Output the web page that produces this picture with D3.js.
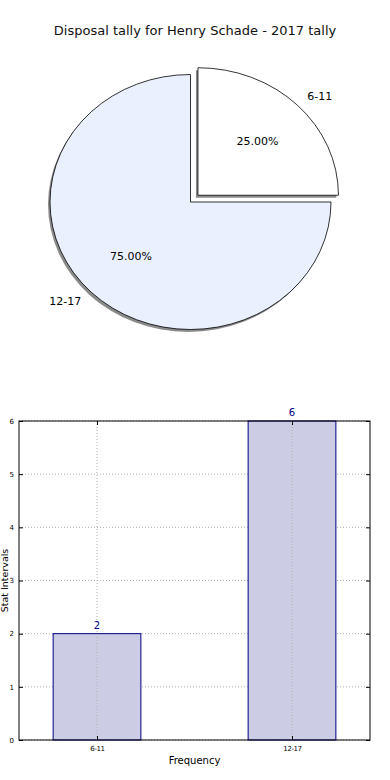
<!DOCTYPE html>
<html>
<head>
<meta charset="utf-8">
<script src="https://cdn.jsdelivr.net/npm/d3@7"></script>
<style>
  body { margin: 0; background: #fff; }
  svg { display: block; font-family: "DejaVu Sans", sans-serif; }
</style>
</head>
<body>
<div id="viz"></div>
<script>
// data
let title = "Disposal tally for Henry Schade - 2017 tally";
let ageGroups = ["6-11", "12-17"];
let tally = [2, 6];
let sliceColors = ["#ffffff", "#eaf0fe"];
let explode = [0.075, 0];
let yTicks = [0, 1, 2, 3, 4, 5, 6];

let w = 390;
let h = 780;

let svg = d3.select("#viz").append("svg")
    .attr("width", w)
    .attr("height", h);

svg.append("rect").attr("width", w).attr("height", h).attr("fill", "#fff");

// title
svg.append("text")
    .attr("x", 195).attr("y", 35)
    .attr("text-anchor", "middle")
    .attr("font-size", "13px")
    .attr("fill", "#111")
    .text(title);

// ---- pie (elliptical, like matplotlib without equal aspect) ----
let cx = 190.5, cy = 202;
let rx = 140.5, ry = 127.5;
let total = d3.sum(tally);

let pie = d3.pie().sort(null).startAngle(0).endAngle(2 * Math.PI);
let arcs = pie(tally);
let arc = d3.arc().innerRadius(0).outerRadius(1);

// point on ellipse for a d3 angle (0 = up, clockwise)
function pt(a, k) {
  return [Math.sin(a) * rx * k, -Math.cos(a) * ry * k];
}

let pieG = svg.append("g").attr("transform", "translate(" + cx + "," + cy + ")");

arcs.forEach((d, i) => {
  let mid = (d.startAngle + d.endAngle) / 2;
  let off = pt(mid, explode[i]);
  d.ox = off[0];
  d.oy = off[1];
  d.mid = mid;
});

// shadows
pieG.selectAll(".shadow").data(arcs).enter().append("path")
    .attr("class", "shadow")
    .attr("d", arc)
    .attr("transform", d => "translate(" + (d.ox - 2) + "," + (d.oy + 2.5) + ") scale(" + rx + "," + ry + ")")
    .attr("fill", "#777")
    .attr("opacity", 0.85);

// slices
pieG.selectAll(".slice").data(arcs).enter().append("path")
    .attr("class", "slice")
    .attr("d", arc)
    .attr("transform", d => "translate(" + d.ox + "," + d.oy + ") scale(" + rx + "," + ry + ")")
    .attr("fill", (d, i) => sliceColors[i])
    .attr("stroke", "#000")
    .attr("stroke-width", 0.8)
    .attr("vector-effect", "non-scaling-stroke");

// labels
pieG.selectAll(".lbl").data(arcs).enter().append("text")
    .attr("class", "lbl")
    .attr("x", d => d.ox + pt(d.mid, 1.1)[0])
    .attr("y", d => d.oy + pt(d.mid, 1.1)[1])
    .attr("dy", "0.35em")
    .attr("text-anchor", d => Math.sin(d.mid) > 0 ? "start" : "end")
    .attr("font-size", "11px")
    .text((d, i) => ageGroups[i]);

pieG.selectAll(".pct").data(arcs).enter().append("text")
    .attr("class", "pct")
    .attr("x", d => d.ox + pt(d.mid, 0.6)[0])
    .attr("y", d => d.oy + pt(d.mid, 0.6)[1])
    .attr("dy", "0.35em")
    .attr("text-anchor", "middle")
    .attr("font-size", "11px")
    .text(d => (d.value / total * 100).toFixed(2) + "%");

// ---- bar chart ----
let plotL = 19, plotR = 370, plotT = 421, plotB = 740;

let x = d3.scalePoint().domain(ageGroups).range([plotL, plotR]).padding(0.4);
let barW = x.step() * 0.45;
let y = d3.scaleLinear().domain([0, 6]).range([plotB, plotT]);

let chart = svg.append("g");

// grid
chart.selectAll(".hgrid").data(yTicks).enter().append("line")
    .attr("x1", plotL).attr("x2", plotR)
    .attr("y1", d => y(d)).attr("y2", d => y(d))
    .attr("stroke", "#b0b0b0").attr("stroke-width", 1)
    .attr("stroke-dasharray", "1,2");

// bars
chart.selectAll(".bar").data(tally).enter().append("rect")
    .attr("x", (d, i) => x(ageGroups[i]) - barW / 2)
    .attr("y", d => y(d))
    .attr("width", barW)
    .attr("height", d => plotB - y(d))
    .attr("fill", "#cccce4")
    .attr("stroke", "#000080")
    .attr("stroke-width", 1);

chart.selectAll(".vgrid").data(ageGroups).enter().append("line")
    .attr("x1", d => x(d)).attr("x2", d => x(d))
    .attr("y1", plotT).attr("y2", plotB)
    .attr("stroke", "#b0b0b0").attr("stroke-width", 1)
    .attr("stroke-dasharray", "1,2");

// value labels
chart.selectAll(".val").data(tally).enter().append("text")
    .attr("x", (d, i) => x(ageGroups[i]))
    .attr("y", d => y(d) - 5)
    .attr("text-anchor", "middle")
    .attr("font-size", "10px")
    .attr("fill", "#000080")
    .text(d => d);

// frame
chart.append("rect")
    .attr("x", plotL).attr("y", plotT)
    .attr("width", plotR - plotL).attr("height", plotB - plotT)
    .attr("fill", "none").attr("stroke", "#000").attr("stroke-width", 1);

// axes
let yAxis = d3.axisLeft(y).tickValues(yTicks).tickSize(-4).tickPadding(5).tickFormat(d3.format("d"));
let yg = chart.append("g").attr("transform", "translate(" + plotL + ",0)").call(yAxis);
yg.select(".domain").remove();
yg.selectAll("text").attr("font-size", "7px").attr("font-family", "DejaVu Sans");
yg.selectAll("line").attr("stroke", "#000");

let yAxisR = d3.axisRight(y).tickValues(yTicks).tickSize(-4).tickFormat("");
let ygr = chart.append("g").attr("transform", "translate(" + plotR + ",0)").call(yAxisR);
ygr.select(".domain").remove();

let xAxis = d3.axisBottom(x).tickSize(-4).tickPadding(6);
let xg = chart.append("g").attr("transform", "translate(0," + plotB + ")").call(xAxis);
xg.select(".domain").remove();
xg.selectAll("text").attr("font-size", "7px").attr("font-family", "DejaVu Sans").attr("letter-spacing", "-0.4px");

let xAxisT = d3.axisTop(x).tickSize(-4).tickFormat("");
let xgt = chart.append("g").attr("transform", "translate(0," + plotT + ")").call(xAxisT);
xgt.select(".domain").remove();

// axis titles
svg.append("text")
    .attr("x", (plotL + plotR) / 2).attr("y", 764)
    .attr("text-anchor", "middle")
    .attr("font-size", "10px")
    .text("Frequency");

svg.append("text")
    .attr("transform", "translate(7.5," + ((plotT + plotB) / 2) + ") rotate(-90)")
    .attr("text-anchor", "middle")
    .attr("font-size", "9.5px")
    .text("Stat Intervals");
</script>
</body>
</html>
